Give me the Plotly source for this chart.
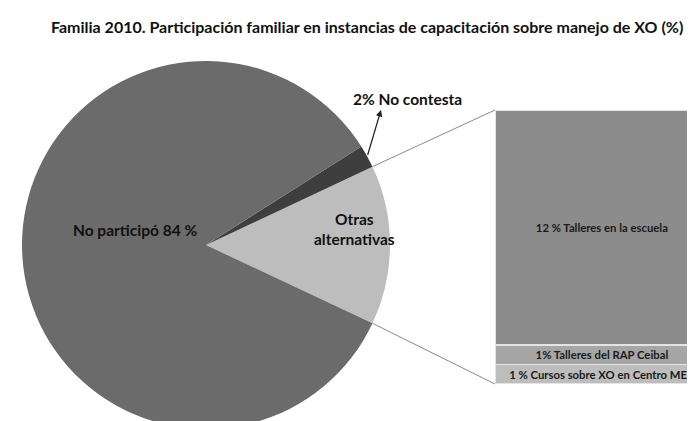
import math
import plotly.graph_objects as go

W, H = 695, 421

# ---- data ----
pie_labels = ["Otras alternativas", "No contesta", "No participó"]
pie_values = [14, 2, 84]
pie_text = ["Otras<br>alternativas", "2% No contesta", "No participó 84 %"]

bar_labels = ["1 % Cursos sobre XO en Centro MEC", "1% Talleres del RAP Ceibal", "12 % Talleres en la escuela"]
bar_values = [1, 1, 12]

# ---- styles ----
pie_colors = ["#bdbdbd", "#3e3e3e", "#6b6b6b"]
bar_colors = ["#bdbdbd", "#a6a6a6", "#8c8c8c"]

def px(x, y):
    return x / W, 1 - y / H

cx, cy, R = 198, 237, 184
bx0, btop, bbot = 487, 102, 376
bar_px_width = 214

total = sum(pie_values)
half = pie_values[0] / total * 180.0  # half-angle of the exploded wedge

fig = go.Figure()

fig.add_trace(go.Pie(
    labels=pie_labels, values=pie_values, sort=False,
    direction="counterclockwise", rotation=90 - half,
    marker=dict(colors=pie_colors, line=dict(width=0)),
    textinfo="none", hoverinfo="label+percent", showlegend=False,
    domain=dict(x=[(cx - R) / W, (cx + R) / W], y=[max(0, 1 - (cy + R) / H), 1 - (cy - R) / H]),
))

for lab, val, col in zip(bar_labels, bar_values, bar_colors):
    fig.add_trace(go.Bar(
        x=[0], y=[val], name=lab, width=1,
        marker=dict(color=col, line=dict(color="#e4e4e4", width=1.5)),
        text=["<b>" + lab + "</b>"], textposition="inside", insidetextanchor="middle",
        textfont=dict(family="Lato", size=11.3, color="#1a1a1a"),
        constraintext="none", cliponaxis=False, showlegend=False,
        xaxis="x", yaxis="y",
    ))

axw = W - bx0
fig.update_layout(
    barmode="stack",
    width=W, height=H,
    margin=dict(l=0, r=0, t=0, b=0),
    paper_bgcolor="white", plot_bgcolor="rgba(0,0,0,0)",
    xaxis=dict(domain=[bx0 / W, 1], range=[-0.5, -0.5 + axw / bar_px_width], visible=False, fixedrange=True),
    yaxis=dict(domain=[1 - bbot / H, 1 - btop / H], range=[0, sum(bar_values)], visible=False, fixedrange=True),
    uniformtext=dict(mode=False),
)

# connector lines from wedge edges to bar corners
ux, uy = cx + R * math.cos(math.radians(half)), cy - R * math.sin(math.radians(half))
lx, ly = cx + R * math.cos(math.radians(-half)), cy - R * math.sin(math.radians(-half))
for (x0, y0), (x1, y1) in [((ux, uy), (bx0, btop)), ((lx, ly), (bx0, bbot))]:
    a, b = px(x0, y0)
    c, d = px(x1, y1)
    fig.add_shape(type="line", xref="paper", yref="paper", x0=a, y0=b, x1=c, y1=d,
                  line=dict(color="#8a8a8a", width=1))

def label(x, y, text, font):
    a, b = px(x, y)
    fig.add_annotation(x=a, y=b, xref="paper", yref="paper", showarrow=False,
                       xanchor="center", yanchor="middle", text=text, font=font)

# title
label(359, 18, "<b>Familia 2010. Participación familiar en instancias de capacitación sobre manejo de XO (%)</b>",
      dict(family="Lato", size=16, color="#111111"))

# pie labels
lab_font = dict(family="Lato", size=15.5, color="#111111")
label(127, 222, "<b>" + pie_text[2] + "</b>", lab_font)
label(346, 221, "<b>" + pie_text[0] + "</b>", lab_font)
label(399, 91, "<b>" + pie_text[1] + "</b>", lab_font)

# arrow from No contesta slice to its label
mid = half + pie_values[1] / total * 180.0
tail_x, tail_y = cx + R * math.cos(math.radians(mid)), cy - R * math.sin(math.radians(mid))
head_x, head_y = 373, 102
a, b = px(head_x, head_y)
fig.add_annotation(x=a, y=b, xref="paper", yref="paper",
                   ax=tail_x - head_x, ay=tail_y - head_y, axref="pixel", ayref="pixel",
                   showarrow=True, arrowhead=2, arrowsize=1, arrowwidth=1.3, arrowcolor="#222222", text="")

fig.write_html("out.html")
